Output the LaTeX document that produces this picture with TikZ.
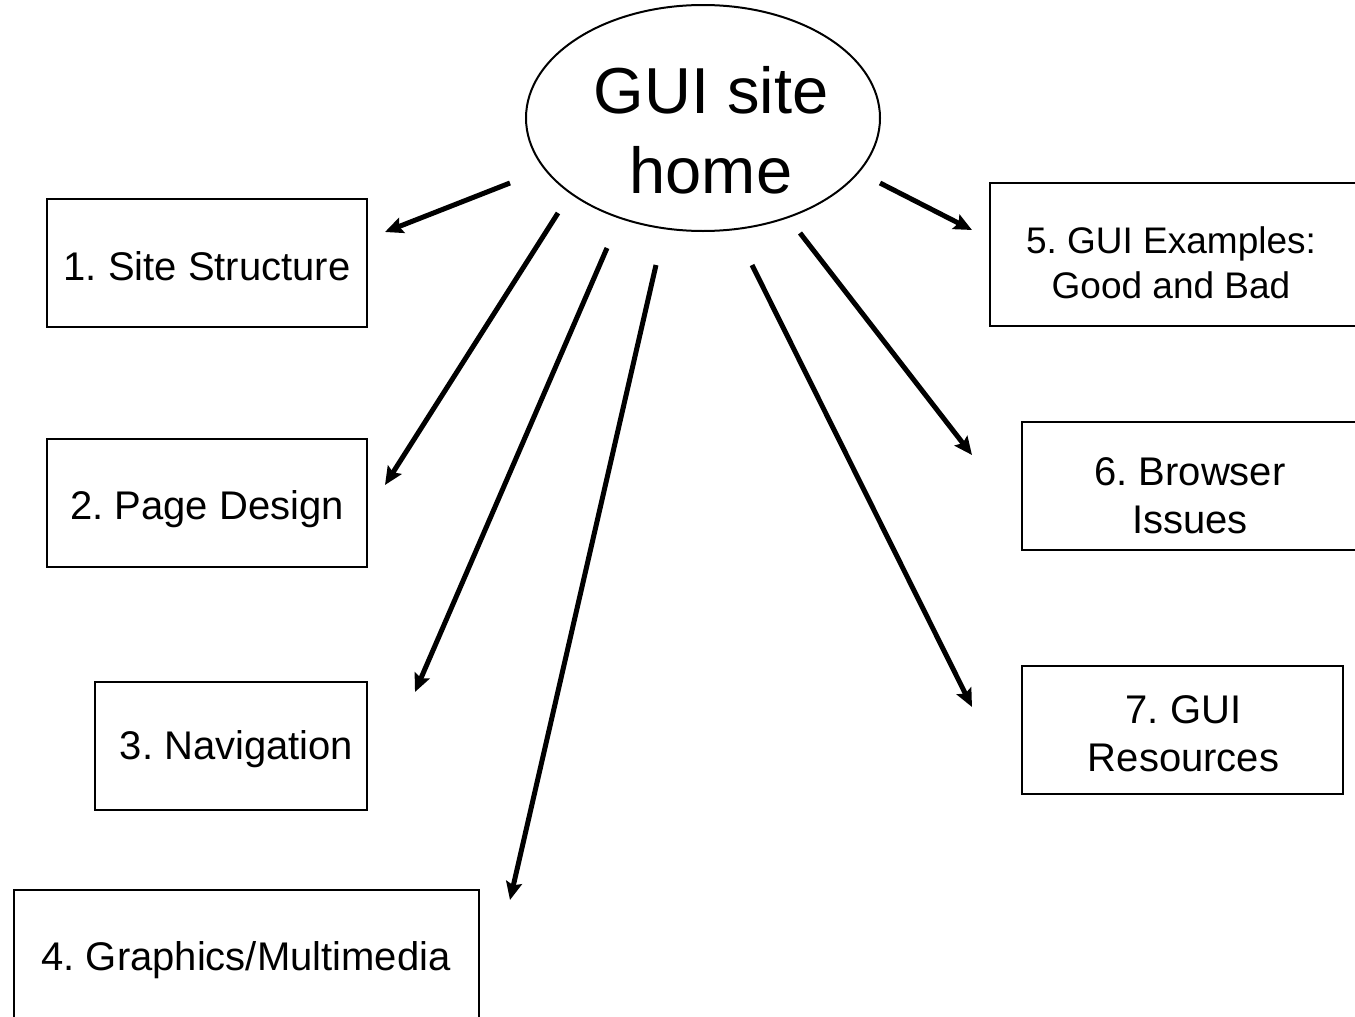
\documentclass[tikz,border=0pt]{standalone}
\usepackage{fontspec}
\setmainfont{Liberation Sans}
\usetikzlibrary{arrows.meta,shapes.geometric}
\frenchspacing

\tikzset{
  topic/.style={draw, line width=2pt, rectangle, inner sep=0pt},
  topictext/.style={inner sep=0pt, anchor=base, align=center,
    font=\fontsize{40}{48}\selectfont},
  hub/.style={draw, line width=2pt, ellipse, inner sep=0pt,
    minimum width=354pt, minimum height=226pt},
  hubtext/.style={inner sep=0pt, anchor=base, align=center,
    font=\fontsize{65}{80}\selectfont},
  link/.style={line width=5pt, -{Stealth[length=18pt,width=16pt,inset=3pt]}}
}

\begin{document}
\begin{tikzpicture}[x=1pt,y=-1pt]
  \useasboundingbox (0,0) rectangle (1355,1017);
  \clip (0,0) rectangle (1355,1017);

  % central page (text anchored on the baseline of its last line)
  \node[hub] (home) at (703,118) {};
  \node[hubtext] (hometext) at (711,193) {GUI site\\home};

  % section frames
  \node[topic, minimum width=320pt, minimum height=128pt] (s1) at (207,263) {};
  \node[topic, minimum width=320pt, minimum height=128pt] (s2) at (207,503) {};
  \node[topic, minimum width=272pt, minimum height=128pt] (s3) at (231,746) {};
  \node[topic, minimum width=465pt, minimum height=130pt] (s4) at (246.5,955) {};
  \node[topic, minimum width=400pt, minimum height=143pt] (s5) at (1190,254.5) {};
  \node[topic, minimum width=336pt, minimum height=128pt] (s6) at (1190,486) {};
  \node[topic, minimum width=321pt, minimum height=128pt] (s7) at (1182.5,730) {};

  % section titles
  \node[topictext] (t1) at (207,280) {1. Site Structure};
  \node[topictext] (t2) at (207,519) {2. Page Design};
  \node[topictext] (t3) at (236.5,759) {3. Navigation};
  \node[topictext] (t4) at (246,970) {4. Graphics/Multimedia};
  \node[topictext, font=\fontsize{37}{45}\selectfont] (t5) at (1171,298) {5. GUI Examples:\\Good and Bad};
  \node[topictext] (t6) at (1190,533) {6. Browser\\Issues};
  \node[topictext] (t7) at (1183.5,771) {7. GUI\\Resources};

  % arrow ends
  \coordinate (a1) at (510,183); \coordinate (b1) at (385,232);
  \coordinate (a2) at (558,213); \coordinate (b2) at (385,485);
  \coordinate (a3) at (607,248); \coordinate (b3) at (415,692);
  \coordinate (a4) at (656,265); \coordinate (b4) at (510,900);
  \coordinate (a5) at (880,183); \coordinate (b5) at (972,230);
  \coordinate (a6) at (800,233); \coordinate (b6) at (972,455);
  \coordinate (a7) at (752,265); \coordinate (b7) at (972,707);

  \foreach \i in {1,...,7} {
    \draw[link] (a\i) -- (b\i);
  }
\end{tikzpicture}
\end{document}
